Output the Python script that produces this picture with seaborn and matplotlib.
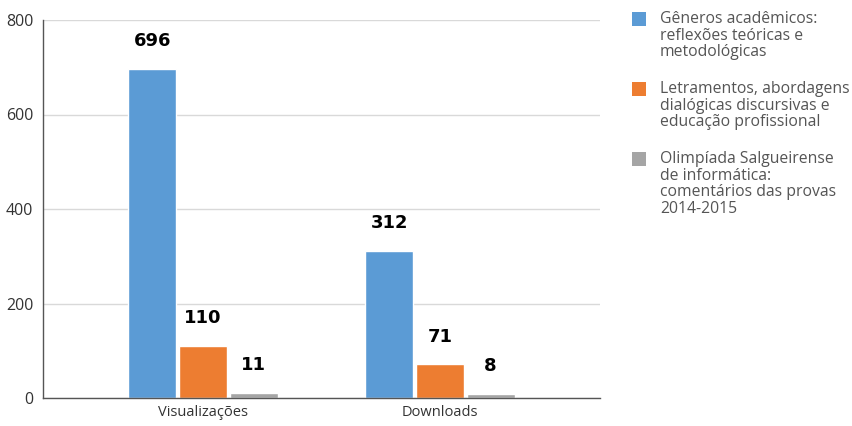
import pandas as pd
import matplotlib
matplotlib.use("Agg")
import matplotlib.pyplot as plt
import seaborn as sns
from matplotlib.patches import Rectangle

# data
metrics = ["Visualizações", "Downloads"]
series = [
    "Gêneros acadêmicos:\nreflexões teóricas e\nmetodológicas",
    "Letramentos, abordagens\ndialógicas discursivas e\neducação profissional",
    "Olimpíada Salgueirense\nde informática:\ncomentários das provas\n2014-2015",
]
views = [696, 110, 11]
downloads = [312, 71, 8]
colors = ["#5B9BD5", "#ED7D31", "#A5A5A5"]

df = pd.DataFrame({
    "metric": [metrics[0]] * 3 + [metrics[1]] * 3,
    "book": series * 2,
    "value": views + downloads,
})

sns.set_theme(style="whitegrid")
plt.rcParams["font.family"] = ["Open Sans", "DejaVu Sans"]

W, H = 852, 426
fig = plt.figure(figsize=(W / 100, H / 100), dpi=100)
ax = fig.add_axes([43 / W, 1 - 398 / H, 557 / W, 378 / H])

sns.barplot(data=df, x="metric", y="value", hue="book", order=metrics,
            hue_order=series, palette=colors, width=0.64, gap=0.05,
            saturation=1, legend=False, ax=ax)

for cont in ax.containers:
    ax.bar_label(cont, padding=13.5, fontsize=13, fontweight="bold",
                 family="DejaVu Sans", color="black")

ax.set_xlim(-0.675, 1.675)
ax.set_ylim(0, 800)
ax.set_yticks([0, 200, 400, 600, 800])
ax.set_xlabel("")
ax.set_ylabel("")
ax.tick_params(axis="both", length=0, colors="#333333")
ax.tick_params(axis="x", labelsize=10.5, pad=5)
ax.tick_params(axis="y", labelsize=11.5, pad=7)
ax.grid(axis="y", color="#D9D9D9", linewidth=1)
ax.grid(axis="x", visible=False)
for side in ["top", "right"]:
    ax.spines[side].set_visible(False)
for side in ["left", "bottom"]:
    ax.spines[side].set_color("#555555")
    ax.spines[side].set_linewidth(1)

# legend drawn by hand so each swatch sits on the first text line
tops = [12, 82, 152]
for lab, col, top in zip(series, colors, tops):
    fig.patches.append(Rectangle((632 / W, 1 - (top + 14) / H), 14 / W, 14 / H,
                                 transform=fig.transFigure, facecolor=col,
                                 edgecolor="none"))
    fig.text(660 / W, 1 - (top - 1) / H, lab, ha="left", va="top",
             fontsize=11.3, color="#555555", linespacing=1.05)

fig.savefig("out.png", dpi=100)
